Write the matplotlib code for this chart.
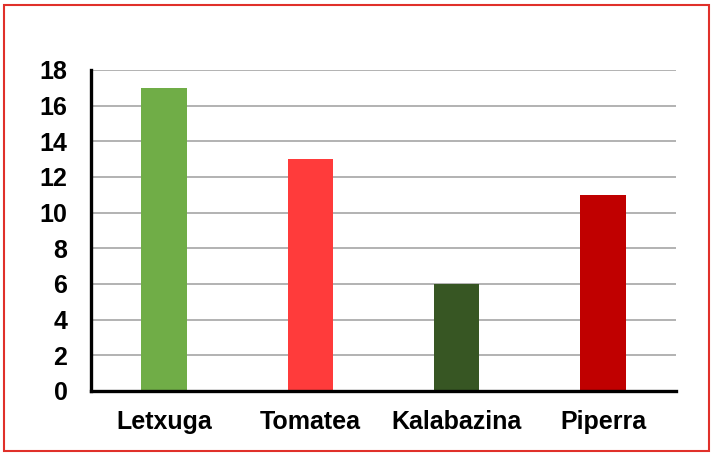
import matplotlib.pyplot as plt
from matplotlib.patches import Rectangle

# Chart data
categories = ['Letxuga', 'Tomatea', 'Kalabazina', 'Piperra']
values = [17, 13, 6, 11]
colors = ['#70AD47', '#FF3B3B', '#375623', '#C00000']

plt.rcParams['font.family'] = ['Liberation Sans', 'DejaVu Sans']

fig = plt.figure(figsize=(7.11, 4.54), dpi=100)
ax = fig.add_axes([0.128, 0.139, 0.823, 0.707])

ax.bar(range(len(categories)), values, width=0.31, color=colors, zorder=3)

ax.set_xlim(-0.5, len(categories) - 0.5)
ax.set_ylim(0, 18)
ax.set_yticks(range(0, 19, 2))
ax.set_xticks(range(len(categories)))
ax.set_xticklabels(categories)

ax.grid(axis='y', color='#A6A6A6', linewidth=1.2, zorder=0)
for side in ['top', 'right']:
    ax.spines[side].set_visible(False)
for side in ['left', 'bottom']:
    ax.spines[side].set_linewidth(2.4)
    ax.spines[side].set_color('black')
    ax.spines[side].set_zorder(4)

ax.tick_params(axis='y', length=0, pad=17, labelsize=18)
ax.tick_params(axis='x', length=0, pad=14, labelsize=18)
for lbl in ax.get_xticklabels() + ax.get_yticklabels():
    lbl.set_fontweight('bold')

# Red frame around the chart area
fig.patches.append(Rectangle((0.005, 0.006), 0.992, 0.984, transform=fig.transFigure,
                             fill=False, edgecolor='#E0302A', linewidth=1.5))

fig.savefig('out.png', dpi=100)
